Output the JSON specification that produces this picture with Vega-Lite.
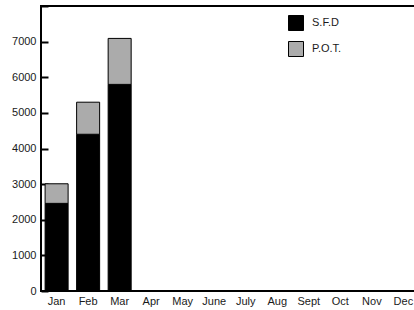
{
  "$schema": "https://vega.github.io/schema/vega-lite/v6.json",
  "autosize": "none",
  "padding": {"left": 41, "top": 6, "right": 0, "bottom": 19},
  "width": 378,
  "height": 285,
  "config": {
    "view": {"stroke": "black", "strokeWidth": 2},
    "font": "Liberation Sans",
    "axis": {"labelFont": "Liberation Sans", "labelFontSize": 11, "labelColor": "#1a1a1a", "grid": false, "domain": false, "title": null},
    "legend": {"labelFont": "Liberation Sans", "labelFontSize": 11, "labelColor": "#1a1a1a"}
  },
  "data": {
    "values": [
      {"month": "Jan", "type": "S.F.D", "value": 2460, "order": 1},
      {"month": "Jan", "type": "P.O.T.", "value": 550, "order": 2},
      {"month": "Feb", "type": "S.F.D", "value": 4400, "order": 1},
      {"month": "Feb", "type": "P.O.T.", "value": 900, "order": 2},
      {"month": "Mar", "type": "S.F.D", "value": 5800, "order": 1},
      {"month": "Mar", "type": "P.O.T.", "value": 1290, "order": 2}
    ]
  },
  "mark": {"type": "bar", "stroke": "black", "strokeWidth": 1},
  "encoding": {
    "x": {
      "field": "month", "type": "ordinal",
      "scale": {"domain": ["Jan","Feb","Mar","Apr","May","June","July","Aug","Sept","Oct","Nov","Dec"], "paddingInner": 0.27, "paddingOuter": 0.13},
      "axis": {"labelAngle": 0, "ticks": false, "labelPadding": 4}
    },
    "y": {
      "field": "value", "type": "quantitative", "aggregate": "sum", "stack": "zero",
      "scale": {"domain": [0, 8000], "nice": false},
      "axis": {"values": [0,1000,2000,3000,4000,5000,6000,7000,8000], "format": "d", "labelExpr": "datum.value == 8000 ? '' : datum.label", "tickSize": -7, "tickColor": "black", "tickWidth": 2, "labelPadding": 12, "labelFlush": false}
    },
    "color": {
      "field": "type", "type": "nominal",
      "scale": {"domain": ["S.F.D", "P.O.T."], "range": ["#000000", "#ababab"]},
      "legend": {"orient": "none", "legendX": 247, "legendY": 9, "title": null, "symbolType": "square", "symbolSize": 225, "symbolStrokeColor": "black", "symbolStrokeWidth": 1, "rowPadding": 6, "labelOffset": 8}
    },
    "order": {"field": "order", "type": "quantitative"}
  }
}
